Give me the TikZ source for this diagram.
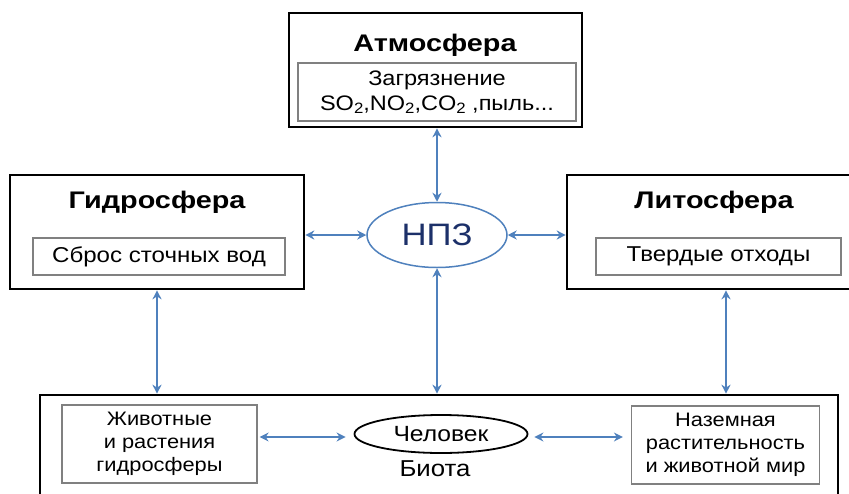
\documentclass[tikz,border=0pt]{standalone}
\usepackage{fontspec}
\setmainfont[FakeStretch=1.12]{Liberation Sans}
\newfontfamily\titlefont[FakeStretch=1.2]{Liberation Sans}
\usetikzlibrary{arrows.meta,shapes.geometric}
\definecolor{linkblue}{RGB}{79,129,189}
\definecolor{npzblue}{RGB}{28,48,105}
\newcommand\lowtwo{\raisebox{-0.3ex}{\fontsize{15}{15}\selectfont 2}}
\begin{document}
\begin{tikzpicture}[
    x=1pt,y=-1pt,
    sphere/.style={draw,line width=2.6pt,inner sep=0pt},
    part/.style={draw=gray,line width=1.2pt,align=center,inner sep=0pt,font=\fontsize{21.5}{25}\selectfont},
    lowpart/.style={part,font=\fontsize{19.5}{23}\selectfont},
    title/.style={font=\titlefont\bfseries\fontsize{24}{28}\selectfont},
    link/.style={linkblue,line width=1.8pt,{Stealth[length=9pt,width=9pt]}-{Stealth[length=9pt,width=9pt]}},
    >=stealth
]
\useasboundingbox (0,0) rectangle (849,493);
\fill[white] (0,0) rectangle (849,493);

% atmosphere
\node[sphere,minimum width=293pt,minimum height=114pt] (atm) at (435.5,70) {};
\node[title] (atmT) at (435,45) {Атмосфера};
\node[part,minimum width=278pt,minimum height=58pt,font=\fontsize{21}{25}\selectfont] (atmP) at (437,92)
  {Загрязнение\\SO\lowtwo,NO\lowtwo,CO\lowtwo\ ,пыль...};

% hydrosphere
\node[sphere,minimum width=294pt,minimum height=114pt] (hyd) at (157,232) {};
\node[title] (hydT) at (157,202) {Гидросфера};
\node[part,minimum width=252pt,minimum height=37pt] (hydP) at (159,256.5) {Сброс сточных вод};

% lithosphere
\node[sphere,minimum width=290pt,minimum height=114pt] (lit) at (712,232) {};
\node[title] (litT) at (714,202) {Литосфера};
\node[part,minimum width=245pt,minimum height=37pt] (litP) at (718.5,256.5) {Твердые отходы};

% refinery
\node[draw=linkblue,line width=1.5pt,fill=white,ellipse,minimum width=140pt,minimum height=65pt,
  text=npzblue,font=\fontsize{31}{35}\selectfont] (npz) at (437,235) {НПЗ};

% biota
\node[sphere,minimum width=798pt,minimum height=130pt] (bio) at (439,460) {};
\node[lowpart,minimum width=195pt,minimum height=78pt] (bioW) at (159.5,444)
  {Животные\\и растения\\гидросферы};
\node[lowpart,minimum width=188pt,minimum height=78pt] (bioL) at (725.5,445)
  {Наземная\\растительность\\и животной мир};
\node[draw,line width=1.8pt,ellipse,minimum width=173pt,minimum height=38pt,
  font=\fontsize{22}{26}\selectfont] (man) at (441,434) {Человек};
\node[font=\fontsize{23}{27}\selectfont] (bioT) at (435,469) {Биота};

\draw[link] (atm.south -| npz.north) -- (npz.north);
\draw[link] (hyd.east |- npz.west) -- (npz.west);
\draw[link] (npz.east) -- (lit.west |- npz.east);
\draw[link] (npz.south) -- (npz.south |- bio.north);
\draw[link] (hyd.south) -- (hyd.south |- bio.north);
\draw[link] ([xshift=0.5pt]lit.south -| bioL.north) -- ([xshift=0.5pt]bioL.north |- bio.north);
\draw[link] (bioW.east |- man.west) ++(2,3) coordinate (w1) -- ([xshift=-8pt,yshift=-3pt]man.west);
\draw[link] ([xshift=6pt,yshift=-3pt]man.east) -- ([xshift=-8pt]bioL.west |- w1);
\end{tikzpicture}
\end{document}
